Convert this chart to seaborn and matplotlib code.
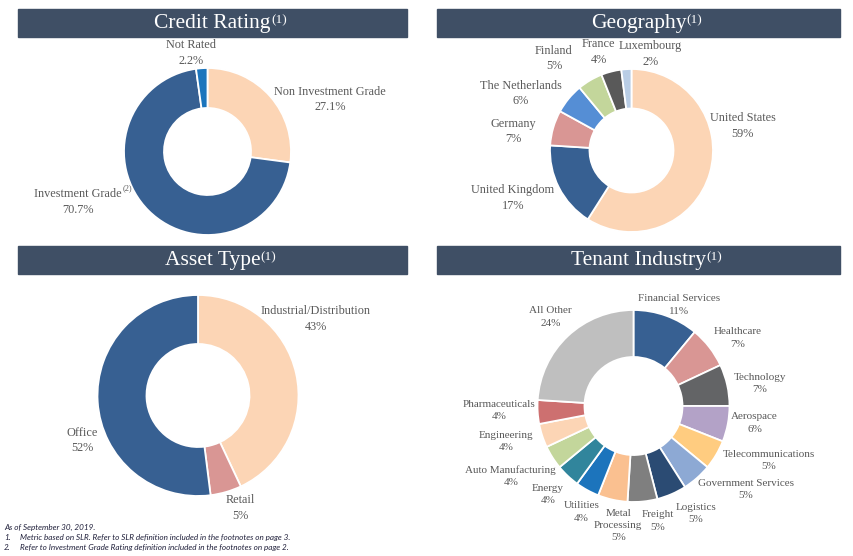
import numpy as np
import seaborn as sns
import matplotlib.pyplot as plt
from matplotlib.patches import Rectangle

# ---- data ----
credit_names = ["Non Investment Grade", "Investment Grade", "Not Rated"]
credit_values = [27.1, 70.7, 2.2]

geo_names = ["United States", "United Kingdom", "Germany", "The Netherlands",
             "Finland", "France", "Luxembourg"]
geo_values = [59, 17, 7, 6, 5, 4, 2]

asset_names = ["Industrial/Distribution", "Retail", "Office"]
asset_values = [43, 5, 52]

tenant_names = ["Financial Services", "Healthcare", "Technology", "Aerospace",
                "Telecommunications", "Government Services", "Logistics", "Freight",
                "Metal\nProcessing", "Utilities", "Energy", "Auto Manufacturing",
                "Engineering", "Pharmaceuticals", "All Other"]
tenant_values = [11, 7, 7, 6, 5, 5, 5, 5, 5, 4, 4, 4, 4, 4, 24]

# ---- colours ----
BLUE = "#376092"
PEACH = "#FCD5B5"
credit_colors = sns.color_palette([PEACH, BLUE, "#1C75BC"])
geo_colors = sns.color_palette([PEACH, BLUE, "#D99694", "#558ED5", "#C3D69B",
                                "#595959", "#B9CDE5"])
asset_colors = sns.color_palette([PEACH, "#D99694", BLUE])
tenant_colors = sns.color_palette([BLUE, "#D99694", "#636466", "#B3A2C7", "#FFCC80",
                                   "#8DA9D4", "#2B4B73", "#7F7F7F", "#FAC090",
                                   "#1C74BC", "#31859C", "#C3D69B", "#FCD5B5",
                                   "#CD7070", "#BFBFBF"])

W, H = 854, 556
HEADER = "#3F4F65"
GREY = "#595959"
SERIF = ["Liberation Serif", "DejaVu Serif"]

sns.set_theme(style="white")
plt.rcParams["font.family"] = SERIF

fig = plt.figure(figsize=(W / 100, H / 100), dpi=100)
ax = fig.add_axes([0, 0, 1, 1])


def header(x0, x1, y0, y1, title):
    ax.add_patch(Rectangle((x0, H - y1), x1 - x0, y1 - y0, color=HEADER, zorder=1))
    t = ax.text((x0 + x1) / 2, H - (y0 + y1) / 2 - 1, title, ha="center", va="center",
                fontsize=15.5, color="white", zorder=2)
    ax.annotate("(1)", xy=(1, 1), xycoords=t, xytext=(0.3, 0), textcoords="offset points",
                ha="left", va="top", fontsize=9.5, color="white", zorder=2)


def donut(values, colors, cx, cy, r_out, r_in):
    ax.pie(values, colors=colors, startangle=90, counterclock=False,
           center=(cx, H - cy), radius=r_out,
           wedgeprops=dict(width=r_out - r_in, edgecolor="white", linewidth=1.3))


def label(x, y, name, pct, size=8.8, spacing=1.35):
    return ax.text(x, H - y, f"{name}\n{pct}", ha="center", va="center",
                   fontsize=size, color=GREY, linespacing=spacing)


# ---- headers ----
header(18, 407, 9, 36.5, "Credit Rating")
header(437, 840, 9, 36.5, "Geography")
header(18, 407, 246, 274, "Asset Type")
header(437, 840, 246, 274, "Tenant Industry")

# ---- Credit Rating ----
donut(credit_values, credit_colors, 207.5, 151.5, 83.5, 43.5)
credit_pos = [(330, 99.5), (78, 202), (191.5, 53)]
for (x, y), n, v in zip(credit_pos, credit_names, credit_values):
    t = label(x, y, n, f"{v:.1f}%")
    if n == "Investment Grade":
        ax.annotate("(2)", xy=(1, 1), xycoords=t, xytext=(0.3, 3),
                    textcoords="offset points", ha="left", va="top",
                    fontsize=6, color=GREY)

# ---- Geography ----
donut(geo_values, geo_colors, 631.5, 150.5, 81.5, 42)
geo_pos = [(742.5, 126), (513, 198), (513, 131.5), (520.5, 93.5),
           (554, 58.5), (598.5, 52), (650.5, 54)]
for (x, y), n, v in zip(geo_pos, geo_names, geo_values):
    label(x, y, n, f"{v}%")

# ---- Asset Type ----
donut(asset_values, asset_colors, 198, 395.5, 100.5, 51.5)
asset_pos = [(316, 319), (240, 508), (82, 440.5)]
for (x, y), n, v in zip(asset_pos, asset_names, asset_values):
    label(x, y, n, f"{v}%")

# ---- Tenant Industry ----
donut(tenant_values, tenant_colors, 633.5, 406, 96, 49)
tenant_pos = [(679.5, 305), (738, 338), (760, 383.7), (754.5, 423),
              (768.5, 460.5), (745.7, 489.5), (695.7, 513.7), (658, 521),
              (618.3, 525.5), (581.5, 512), (548, 494.7), (510.7, 476),
              (506, 441.3), (499.5, 410.7), (550.5, 317)]
for (x, y), n, v in zip(tenant_pos, tenant_names, tenant_values):
    label(x, y, n, f"{v}%", size=8, spacing=1.45)

# ---- footnotes ----
foot = dict(fontsize=5.9, style="italic", color="#1F1F3A", family=["Lato", "DejaVu Sans"],
            va="center", ha="left")
ax.text(4, H - 527.5, "As of September 30, 2019.", **foot)
ax.text(4, H - 537.5, "1.", **foot)
ax.text(20, H - 537.5, "Metric based on SLR. Refer to SLR definition included in the footnotes on page 3.", **foot)
ax.text(4, H - 547.5, "2.", **foot)
ax.text(20, H - 547.5, "Refer to Investment Grade Rating definition included in the footnotes on page 2.", **foot)

ax.set_xlim(0, W)
ax.set_ylim(0, H)
ax.set_aspect("auto")
ax.axis("off")

fig.savefig("out.png", dpi=100)
